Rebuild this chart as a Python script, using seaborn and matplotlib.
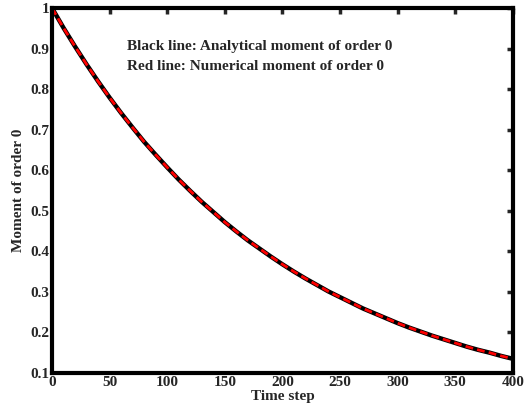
import matplotlib
matplotlib.use("Agg")
import matplotlib.pyplot as plt
import seaborn as sns
import pandas as pd

time_step = [0, 10, 20, 30, 40, 50, 60, 70, 80, 90, 100, 110, 120, 130, 140, 150,
             160, 170, 180, 190, 200, 210, 220, 230, 240, 250, 260, 270, 280, 290,
             300, 310, 320, 330, 340, 350, 360, 370, 380, 390, 400]
analytical = [1.000, 0.951, 0.905, 0.861, 0.819, 0.779, 0.741, 0.705, 0.670, 0.638,
              0.607, 0.577, 0.549, 0.522, 0.497, 0.472, 0.449, 0.427, 0.407, 0.387,
              0.368, 0.350, 0.333, 0.317, 0.301, 0.287, 0.273, 0.259, 0.247, 0.235,
              0.223, 0.212, 0.202, 0.192, 0.183, 0.174, 0.165, 0.157, 0.150, 0.142,
              0.135]
numerical = [1.000, 0.951, 0.905, 0.861, 0.819, 0.779, 0.741, 0.705, 0.670, 0.638,
             0.607, 0.577, 0.549, 0.522, 0.497, 0.472, 0.449, 0.427, 0.407, 0.387,
             0.368, 0.350, 0.333, 0.317, 0.301, 0.287, 0.273, 0.259, 0.247, 0.235,
             0.223, 0.212, 0.202, 0.192, 0.183, 0.174, 0.165, 0.157, 0.150, 0.142,
             0.135]
x_ticks = [0, 50, 100, 150, 200, 250, 300, 350, 400]
y_ticks = [0.1, 0.2, 0.3, 0.4, 0.5, 0.6, 0.7, 0.8, 0.9, 1.0]
y_tick_labels = ["0.1", "0.2", "0.3", "0.4", "0.5", "0.6", "0.7", "0.8", "0.9", "1"]

sns.set_style("white")
plt.rcParams["font.family"] = ["Liberation Serif", "DejaVu Serif"]
plt.rcParams["font.weight"] = "bold"

df = pd.DataFrame({"t": time_step, "analytical": analytical, "numerical": numerical})

fig = plt.figure(figsize=(5.27, 4.13), dpi=100)
ax = fig.add_axes([0.0987, 0.0969, 0.8743, 0.8837])

sns.lineplot(data=df, x="t", y="analytical", ax=ax, color="black", linewidth=3.2)
sns.lineplot(data=df, x="t", y="numerical", ax=ax, color="red", linewidth=2.0,
             linestyle=(0, (2.8, 1.5)))

ax.set_xlim(0, 400)
ax.set_ylim(0.1, 1.0)
ax.set_xticks(x_ticks)
ax.set_xticklabels([str(v) for v in x_ticks])
ax.set_yticks(y_ticks)
ax.set_yticklabels(y_tick_labels)
ax.tick_params(direction="in", length=4, width=2.5, top=True, right=True,
               labelsize=11, pad=2)
for lab in ax.get_xticklabels() + ax.get_yticklabels():
    lab.set_fontweight("bold")
for s in ax.spines.values():
    s.set_linewidth(3)
    s.set_color("black")

ax.set_xlabel("Time step", fontsize=11, fontweight="bold", labelpad=1)
ax.set_ylabel("Moment of order 0", fontsize=11, fontweight="bold", labelpad=4)

ax.text(65, 0.906, "Black line: Analytical moment of order 0", fontsize=11,
        fontweight="bold", va="center", ha="left")
ax.text(65, 0.857, "Red line: Numerical moment of order 0", fontsize=11,
        fontweight="bold", va="center", ha="left")

fig.savefig("out.png", dpi=100)
